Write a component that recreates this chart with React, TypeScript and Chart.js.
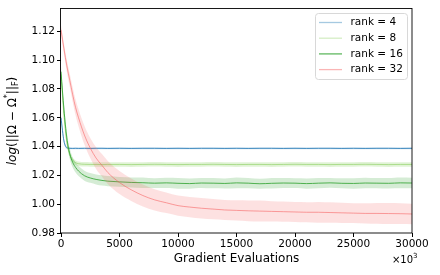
import React, { useEffect, useRef } from "react";
import { Chart, registerables } from "chart.js";
Chart.register(...registerables);

const evals = [0, 250, 500, 750, 1000, 1250, 1500, 2000, 2500, 3000, 3500, 4000, 5000, 6000, 7000, 8000, 9000, 10000, 11000, 12000, 13000, 14000, 15000, 16000, 17000, 18000, 19000, 20000, 21000, 22000, 23000, 24000, 25000, 26000, 27000, 28000, 29000, 30000];

const rank4 = [1.060, 1.044, 1.0392, 1.0388, 1.0387, 1.0388, 1.0387, 1.0388, 1.0387, 1.0388, 1.0388, 1.0387, 1.0388, 1.0387, 1.0388, 1.0388, 1.0387, 1.0388, 1.0387, 1.0388, 1.0388, 1.0387, 1.0388, 1.0387, 1.0388, 1.0388, 1.0387, 1.0388, 1.0387, 1.0388, 1.0388, 1.0387, 1.0388, 1.0387, 1.0388, 1.0388, 1.0387, 1.0388];
const spread4 = [0.002, 0.0015, 0.0008, 0.0006, 0.0006, 0.0006, 0.0006, 0.0006, 0.0006, 0.0006, 0.0006, 0.0006, 0.0006, 0.0006, 0.0006, 0.0006, 0.0006, 0.0006, 0.0006, 0.0006, 0.0006, 0.0006, 0.0006, 0.0006, 0.0006, 0.0006, 0.0006, 0.0006, 0.0006, 0.0006, 0.0006, 0.0006, 0.0006, 0.0006, 0.0006, 0.0006, 0.0006, 0.0006];

const rank8 = [1.090, 1.062, 1.043, 1.0345, 1.0305, 1.0288, 1.0281, 1.0277, 1.0276, 1.0276, 1.0275, 1.0276, 1.0276, 1.0275, 1.0276, 1.0277, 1.0276, 1.0275, 1.0276, 1.0276, 1.0277, 1.0276, 1.0275, 1.0276, 1.0276, 1.0275, 1.0276, 1.0277, 1.0276, 1.0276, 1.0275, 1.0276, 1.0276, 1.0277, 1.0276, 1.0275, 1.0276, 1.0276];
const spread8 = [0.003, 0.0025, 0.002, 0.0018, 0.0017, 0.0016, 0.0016, 0.0016, 0.0016, 0.0016, 0.0016, 0.0016, 0.0016, 0.0016, 0.0016, 0.0016, 0.0016, 0.0016, 0.0016, 0.0016, 0.0016, 0.0016, 0.0016, 0.0016, 0.0016, 0.0016, 0.0016, 0.0016, 0.0016, 0.0016, 0.0016, 0.0016, 0.0016, 0.0016, 0.0016, 0.0016, 0.0016, 0.0016];

const rank16 = [1.092, 1.066, 1.046, 1.035, 1.0290, 1.0255, 1.0230, 1.0198, 1.0182, 1.0172, 1.0165, 1.0160, 1.0155, 1.0151, 1.0149, 1.0146, 1.0148, 1.0145, 1.0143, 1.0147, 1.0146, 1.0144, 1.0148, 1.0146, 1.0142, 1.0145, 1.0147, 1.0146, 1.0143, 1.0146, 1.0148, 1.0145, 1.0144, 1.0147, 1.0146, 1.0145, 1.0148, 1.0147];
const spread16 = [0.004, 0.004, 0.0038, 0.0036, 0.0035, 0.0035, 0.0035, 0.0035, 0.0034, 0.0035, 0.0036, 0.0035, 0.0034, 0.0035, 0.0036, 0.0034, 0.0035, 0.0037, 0.0035, 0.0034, 0.0036, 0.0035, 0.0037, 0.0035, 0.0034, 0.0036, 0.0035, 0.0034, 0.0036, 0.0035, 0.0034, 0.0035, 0.0036, 0.0037, 0.0035, 0.0036, 0.0038, 0.0037];

const rank32 = [1.121, 1.108, 1.096, 1.086, 1.076, 1.067, 1.060, 1.048, 1.039, 1.032, 1.027, 1.022, 1.015, 1.010, 1.006, 1.003, 1.001, 0.999, 0.998, 0.9972, 0.9966, 0.996, 0.9957, 0.9954, 0.9952, 0.995, 0.9948, 0.9946, 0.9944, 0.9944, 0.9942, 0.994, 0.9938, 0.9936, 0.9936, 0.9935, 0.9934, 0.9932];
const spread32 = [0.003, 0.0035, 0.004, 0.0045, 0.005, 0.0055, 0.006, 0.0065, 0.007, 0.0075, 0.0078, 0.008, 0.008, 0.0078, 0.0076, 0.0074, 0.0072, 0.007, 0.007, 0.0071, 0.007, 0.0069, 0.007, 0.0072, 0.0073, 0.0071, 0.007, 0.0069, 0.007, 0.0072, 0.0071, 0.007, 0.0069, 0.007, 0.0072, 0.0073, 0.0072, 0.0071];

const labels = ["rank = 4", "rank = 8", "rank = 16", "rank = 32"];
const yTicks = [0.98, 1.0, 1.02, 1.04, 1.06, 1.08, 1.1, 1.12];

const FONT = "DejaVu Sans";

export default function App() {
  const ref = useRef<HTMLCanvasElement>(null);
  useEffect(() => {
    document.body.style.margin = "0";
    const canvas = ref.current!;
    const series = [
      { mean: rank4, sd: spread4, line: "rgba(31,119,180,0.8)", band: "rgba(31,119,180,0.22)", leg: "rgba(31,119,180,0.4)" },
      { mean: rank8, sd: spread8, line: "rgba(120,200,70,0.5)", band: "rgba(120,200,70,0.22)", leg: "rgba(120,200,70,0.32)" },
      { mean: rank16, sd: spread16, line: "rgba(44,160,44,0.8)", band: "rgba(44,160,44,0.2)", leg: "rgba(44,160,44,0.75)" },
      { mean: rank32, sd: spread32, line: "rgba(245,90,90,0.55)", band: "rgba(245,90,90,0.18)", leg: "rgba(245,90,90,0.45)" },
    ];
    const datasets: any[] = [];
    series.forEach((s, i) => {
      const base = (3 - i) * 3;
      datasets.push({
        data: evals.map((x, j) => ({ x, y: s.mean[j] + s.sd[j] })),
        fill: "+1", backgroundColor: s.band, borderWidth: 0, pointRadius: 0,
        cubicInterpolationMode: "monotone", order: base + 1,
      });
      datasets.push({
        data: evals.map((x, j) => ({ x, y: s.mean[j] - s.sd[j] })),
        fill: false, borderWidth: 0, pointRadius: 0, borderColor: "rgba(0,0,0,0)",
        cubicInterpolationMode: "monotone", order: base + 2,
      });
      datasets.push({
        data: evals.map((x, j) => ({ x, y: s.mean[j] })),
        fill: false, borderColor: s.line, borderWidth: 1, pointRadius: 0,
        cubicInterpolationMode: "monotone", order: base,
      });
    });

    const decor = {
      id: "decor",
      afterDraw(chart: any) {
        const c = chart.ctx;
        const a = chart.chartArea;
        c.save();
        c.strokeStyle = "#000";
        c.lineWidth = 0.9;
        c.strokeRect(Math.round(a.left) - 0.5, Math.round(a.top) + 0.5, Math.round(a.right - a.left) + 0.5, Math.round(a.bottom - a.top) - 0.5);
        c.fillStyle = "#000";
        c.textAlign = "center";
        c.textBaseline = "middle";
        c.font = `12px '${FONT}'`;
        c.fillText("Gradient Evaluations", (a.left + a.right) / 2, 259);
        c.textAlign = "right";
        c.font = `10px '${FONT}'`;
        c.fillText("×10", 413, 260);
        c.font = `7px '${FONT}'`;
        c.textAlign = "left";
        c.fillText("3", 413, 256);
        c.save();
        c.translate(13, 121);
        c.rotate(-Math.PI / 2);
        const segs: [string, string, number][] = [
          ["log", `italic 12px '${FONT}'`, 0],
          ["(||Ω − Ω", `12px '${FONT}'`, 0],
          ["*", `8px '${FONT}'`, -5],
          ["||", `12px '${FONT}'`, 0],
          ["F", `8px '${FONT}'`, 3],
          [")", `12px '${FONT}'`, 0],
        ];
        let total = 0;
        segs.forEach(([t, f]) => { c.font = f; total += c.measureText(t).width; });
        let x = -total / 2;
        c.textAlign = "left";
        c.textBaseline = "middle";
        segs.forEach(([t, f, dy]) => { c.font = f; c.fillText(t, x, dy); x += c.measureText(t).width; });
        c.restore();
        const lx = 315.5, ly = 13.5, lw = 92, lh = 66, r = 3;
        c.beginPath();
        c.moveTo(lx + r, ly);
        c.arcTo(lx + lw, ly, lx + lw, ly + lh, r);
        c.arcTo(lx + lw, ly + lh, lx, ly + lh, r);
        c.arcTo(lx, ly + lh, lx, ly, r);
        c.arcTo(lx, ly, lx + lw, ly, r);
        c.closePath();
        c.fillStyle = "rgba(255,255,255,0.85)";
        c.fill();
        c.strokeStyle = "#d8d8d8";
        c.lineWidth = 1;
        c.stroke();
        c.font = `10.5px '${FONT}'`;
        c.textAlign = "left";
        c.textBaseline = "middle";
        labels.forEach((lab, i) => {
          const y = 22.5 + i * 15.7;
          c.strokeStyle = series[i].leg;
          c.lineWidth = 1.3;
          c.beginPath();
          c.moveTo(319, y);
          c.lineTo(342, y);
          c.stroke();
          c.fillStyle = "#000";
          c.fillText(lab, 350.5, y);
        });
        c.restore();
      },
    };

    const chart = new Chart(canvas, {
      type: "line",
      data: { datasets },
      options: {
        animation: false,
        responsive: false,
        events: [],
        layout: { padding: { top: 7, right: 28, left: 0, bottom: 0 } },
        plugins: { legend: { display: false }, tooltip: { enabled: false } },
        scales: {
          x: {
            type: "linear",
            min: 0,
            max: 30000,
            border: { display: false },
            grid: { drawOnChartArea: false, tickLength: 4, tickColor: "#000" },
            ticks: {
              stepSize: 5000, includeBounds: false, color: "#000", padding: 1,
              font: { family: FONT, size: 10.5 }, maxRotation: 0,
              callback: (v: any) => String(v),
            },
            afterFit: (s: any) => { s.height = 42; },
          },
          y: {
            type: "linear",
            min: 0.98,
            max: 1.136,
            border: { display: false },
            grid: { drawOnChartArea: false, tickLength: 4, tickColor: "#000" },
            afterBuildTicks: (s: any) => { s.ticks = yTicks.map((v) => ({ value: v })); },
            ticks: {
              color: "#000", padding: 2,
              font: { family: FONT, size: 10.5 },
              callback: (v: any) => Number(v).toFixed(2),
            },
            afterFit: (s: any) => { s.width = 61; },
          },
        },
      },
      plugins: [decor],
    } as any);
    return () => chart.destroy();
  }, []);
  return (
    <div style={{ position: "absolute", left: 0, top: 0, width: 440, height: 275, background: "#fff" }}>
      <canvas ref={ref} width={440} height={275} style={{ width: 440, height: 275, display: "block" }} />
    </div>
  );
}
